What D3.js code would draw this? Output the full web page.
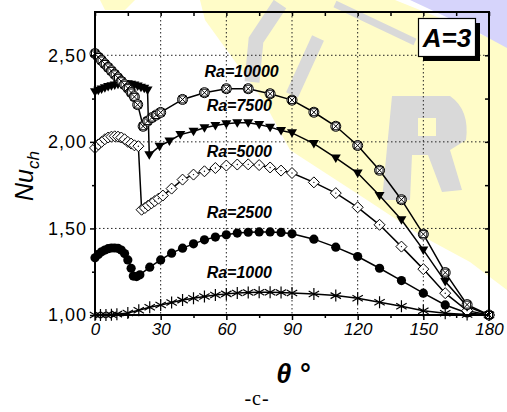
<!DOCTYPE html>
<html>
<head>
<meta charset="utf-8">
<script src="https://cdn.jsdelivr.net/npm/d3@7"></script>
<style>
  body { margin: 0; background: #fff; }
  text { font-family: "Liberation Sans", Arial, sans-serif; }
</style>
</head>
<body>
<div id="chart"></div>
<script>
// Chart canvas size
var svgWidth = 507;
var svgHeight = 412;

// Margins around the plot frame
var margin = { top: 12, right: 18, bottom: 97, left: 95 };
var width = svgWidth - margin.left - margin.right;
var height = svgHeight - margin.top - margin.bottom;

// ---- data ----
var xTicks = [0, 30, 60, 90, 120, 150, 180];
var xMinor = [15, 45, 75, 105, 135, 165];
var yTicks = [1.0, 1.5, 2.0, 2.5];
var yTickLabels = ["1,00", "1,50", "2,00", "2,50"];
var yMinor = [1.25, 1.75, 2.25];

var theta1000 = [0, 2.5, 5, 7.5, 10, 15, 20, 25, 30, 35, 40, 45, 50, 55, 60, 65, 70, 75, 80, 85, 90, 100, 110, 120, 130, 140, 150, 160, 170, 180];
var nu1000 = [1.0, 1.0, 1.0, 1.002, 1.005, 1.012, 1.027, 1.045, 1.058, 1.072, 1.086, 1.097, 1.107, 1.116, 1.122, 1.127, 1.13, 1.132, 1.132, 1.13, 1.127, 1.121, 1.112, 1.097, 1.074, 1.05, 1.025, 1.01, 1.003, 1.0];

var theta2500 = [0, 1.5, 3, 4.5, 6, 7.5, 9, 10.5, 12, 13.5, 15, 16.5, 17.5, 19, 20.5, 25, 30, 35, 40, 45, 50, 55, 60, 65, 70, 75, 80, 85, 90, 100, 110, 120, 130, 140, 150, 160, 170, 180];
var nu2500 = [1.33, 1.35, 1.365, 1.375, 1.383, 1.387, 1.387, 1.385, 1.375, 1.355, 1.318, 1.27, 1.225, 1.222, 1.232, 1.276, 1.318, 1.357, 1.386, 1.411, 1.434, 1.45, 1.463, 1.473, 1.478, 1.48, 1.48, 1.477, 1.469, 1.438, 1.392, 1.338, 1.27, 1.199, 1.126, 1.058, 1.012, 1.0];

var theta5000 = [0, 1.5, 3, 4.5, 6, 7.5, 9, 10.5, 12, 13.5, 15, 16.5, 18, 19.8, 21.3, 22.8, 24.3, 25.8, 27.3, 29, 31, 35, 40, 45, 50, 55, 60, 65, 70, 75, 80, 85, 90, 100, 110, 120, 130, 140, 150, 160, 170, 180];
var nu5000 = [1.965, 1.985, 2.0, 2.015, 2.025, 2.03, 2.032, 2.03, 2.025, 2.015, 2.0, 1.99, 1.98, 1.975, 1.608, 1.618, 1.632, 1.645, 1.658, 1.672, 1.69, 1.73, 1.782, 1.811, 1.83, 1.849, 1.863, 1.869, 1.87, 1.866, 1.852, 1.834, 1.82, 1.766, 1.704, 1.622, 1.521, 1.395, 1.265, 1.126, 1.025, 1.0];

var theta7500 = [0, 1.5, 3, 4.5, 6, 7.5, 9, 10.5, 12, 13.5, 15, 16.5, 18, 19.5, 21, 22.5, 24, 24.8, 29.5, 34, 39, 45, 50, 55, 60, 65, 70, 75, 80, 85, 90, 100, 110, 120, 130, 140, 150, 160, 170, 180];
var nu7500 = [2.29, 2.298, 2.306, 2.313, 2.319, 2.324, 2.328, 2.332, 2.335, 2.337, 2.336, 2.333, 2.328, 2.322, 2.316, 2.31, 2.30, 1.925, 1.975, 2.005, 2.042, 2.061, 2.081, 2.094, 2.104, 2.11, 2.11, 2.1, 2.085, 2.066, 2.052, 1.99, 1.907, 1.82, 1.69, 1.55, 1.376, 1.193, 1.05, 1.0];

var theta10000 = [0, 1.5, 3, 4.5, 6, 7.5, 9, 10.5, 12, 13.5, 15, 16.5, 18, 19.5, 22, 24, 26, 28, 30, 40, 50, 60, 70, 80, 90, 100, 110, 120, 130, 140, 150, 160, 170, 180];
var nu10000 = [2.51, 2.49, 2.47, 2.45, 2.43, 2.41, 2.39, 2.37, 2.35, 2.33, 2.31, 2.285, 2.26, 2.215, 2.09, 2.12, 2.14, 2.155, 2.17, 2.245, 2.284, 2.307, 2.307, 2.278, 2.241, 2.171, 2.09, 1.979, 1.836, 1.666, 1.467, 1.245, 1.06, 1.0];

var seriesNames = ["Ra=1000", "Ra=2500", "Ra=5000", "Ra=7500", "Ra=10000"];
var labelTheta = [51, 51, 51, 51, 50];
var labelNu = [1.215, 1.56, 1.915, 2.18, 2.375];

var series = [
  { name: seriesNames[0], t: theta1000, v: nu1000, marker: "asterisk" },
  { name: seriesNames[1], t: theta2500, v: nu2500, marker: "circle" },
  { name: seriesNames[2], t: theta5000, v: nu5000, marker: "diamond" },
  { name: seriesNames[3], t: theta7500, v: nu7500, marker: "triangle" },
  { name: seriesNames[4], t: theta10000, v: nu10000, marker: "crossbox" }
];

var svg = d3.select("#chart")
  .append("svg")
  .attr("width", svgWidth)
  .attr("height", svgHeight);

// watermark in the background (pale logo)
var wm = svg.append("g");
wm.append("polygon")
  .attr("points", "200,0 395,0 507,45 507,290 470,262 420,235 367,200 290,150 263,100 205,20")
  .attr("fill", "#fffcc8");
wm.append("polygon")
  .attr("points", "100,0 135,0 125,10 105,10")
  .attr("fill", "#fffcc8");
wm.append("polygon")
  .attr("points", "410,0 507,0 507,48 470,28")
  .attr("fill", "#d6d4fb");
var grey = "#d9d9d9";
wm.append("path").attr("d", "M280,4 L256,40 L252,82")
  .attr("stroke", grey).attr("stroke-width", 15).attr("fill", "none");
wm.append("path").attr("d", "M318,38 L292,95")
  .attr("stroke", grey).attr("stroke-width", 13).attr("fill", "none");
wm.append("path").attr("d", "M335,4 L415,42")
  .attr("stroke", grey).attr("stroke-width", 7).attr("fill", "none");
// "R" shaped blob
wm.append("path")
  .attr("d", "M392,96 L450,96 Q470,110 466,140 L450,150 L462,190 L442,192 L428,155 L412,155 L410,200 L382,200 Z M418,118 L418,136 L436,136 L436,118 Z")
  .attr("fill", grey).attr("fill-rule", "evenodd");

var chartGroup = svg.append("g")
  .attr("transform", `translate(${margin.left}, ${margin.top})`);

var xScale = d3.scaleLinear().domain([0, 180]).range([0, width]);
var yScale = d3.scaleLinear().domain([1, 2.75]).range([height, 0]);

// dotted grid
chartGroup.selectAll(".gx")
  .data(xTicks.slice(1, -1))
  .enter().append("line")
  .attr("x1", d => xScale(d)).attr("x2", d => xScale(d))
  .attr("y1", 0).attr("y2", height)
  .attr("stroke", "#222").attr("stroke-width", 1)
  .attr("stroke-dasharray", "1.5,2.5");
chartGroup.selectAll(".gy")
  .data(yTicks.slice(1))
  .enter().append("line")
  .attr("x1", 0).attr("x2", width)
  .attr("y1", d => yScale(d)).attr("y2", d => yScale(d))
  .attr("stroke", "#222").attr("stroke-width", 1)
  .attr("stroke-dasharray", "1.5,2.5");

// lines
var line = d3.line()
  .x(d => xScale(d[0]))
  .y(d => yScale(d[1]));

series.forEach(function (s) {
  var pts = s.t.map((t, i) => [t, s.v[i]]);
  chartGroup.append("path")
    .datum(pts)
    .attr("d", line)
    .attr("fill", "none")
    .attr("stroke", "#000")
    .attr("stroke-width", 1.5);
});

// markers
function drawMarker(g, type) {
  if (type === "circle") {
    g.append("circle").attr("r", 4.6).attr("fill", "#000");
  } else if (type === "triangle") {
    g.append("path").attr("d", "M-5,-3.5 L5,-3.5 L0,5 Z").attr("fill", "#000");
  } else if (type === "diamond") {
    g.append("path").attr("d", "M0,-5.5 L5.5,0 L0,5.5 L-5.5,0 Z")
      .attr("fill", "#fff").attr("stroke", "#000").attr("stroke-width", 1);
    g.append("circle").attr("r", 0.7).attr("fill", "#000");
  } else if (type === "crossbox") {
    g.append("circle").attr("r", 5).attr("fill", "#fff").attr("stroke", "#000").attr("stroke-width", 1);
    g.append("rect").attr("x", -3.5).attr("y", -3.5).attr("width", 7).attr("height", 7)
      .attr("fill", "none").attr("stroke", "#000").attr("stroke-width", 1);
    g.append("path").attr("d", "M-3.5,-3.5 L3.5,3.5 M-3.5,3.5 L3.5,-3.5")
      .attr("stroke", "#000").attr("stroke-width", 1);
  } else if (type === "asterisk") {
    g.append("path").attr("d", "M0,-6 L0,6 M-5.2,-3 L5.2,3 M-5.2,3 L5.2,-3")
      .attr("stroke", "#000").attr("stroke-width", 1.2);
  }
}

series.forEach(function (s) {
  s.t.forEach(function (t, i) {
    var g = chartGroup.append("g")
      .attr("transform", `translate(${xScale(t)}, ${yScale(s.v[i])})`);
    drawMarker(g, s.marker);
  });
});

// series labels
chartGroup.selectAll(".slab")
  .data(seriesNames)
  .enter().append("text")
  .attr("x", (d, i) => xScale(labelTheta[i]))
  .attr("y", (d, i) => yScale(labelNu[i]))
  .style("font-size", "16px")
  .style("font-weight", "bold")
  .style("font-style", "italic")
  .text(d => d);

// frame
chartGroup.append("rect")
  .attr("x", 0).attr("y", 0).attr("width", width).attr("height", height)
  .attr("fill", "none").attr("stroke", "#000").attr("stroke-width", 2);

// axes
var bottomAxis = d3.axisBottom(xScale).tickValues(xTicks).tickSize(5).tickPadding(3)
  .tickFormat(d => d);
var bottomMinor = d3.axisBottom(xScale).tickValues(xMinor).tickSize(3).tickFormat("");
var leftAxis = d3.axisLeft(yScale).tickValues(yTicks).tickSize(5).tickPadding(3)
  .tickFormat((d, i) => yTickLabels[i]);
var leftMinor = d3.axisLeft(yScale).tickValues(yMinor).tickSize(3).tickFormat("");
var topTicks = d3.axisBottom(xScale).tickValues(xTicks.concat(xMinor)).tickSize(4).tickFormat("");
var rightTicks = d3.axisLeft(yScale).tickValues(yTicks.concat(yMinor)).tickSize(4).tickFormat("");

var bx = chartGroup.append("g").attr("transform", `translate(0, ${height})`).call(bottomAxis);
chartGroup.append("g").attr("transform", `translate(0, ${height})`).call(bottomMinor);
var ly = chartGroup.append("g").call(leftAxis);
chartGroup.append("g").call(leftMinor);
chartGroup.append("g").call(topTicks);
chartGroup.append("g").attr("transform", `translate(${width}, 0)`).call(rightTicks);

chartGroup.selectAll(".domain").remove();
chartGroup.selectAll(".tick line").attr("stroke", "#000").attr("stroke-width", 1.5);

bx.selectAll("text")
  .style("font-size", "17px")
  .style("font-style", "italic")
  .style("font-family", "'Liberation Sans', Arial, sans-serif")
  .attr("fill", "#000");
ly.selectAll("text")
  .style("font-size", "18px")
  .style("letter-spacing", "1px")
  .style("font-family", "'Liberation Sans', Arial, sans-serif")
  .attr("fill", "#000");

// axis titles
var yTitle = svg.append("text")
  .attr("transform", "translate(33, 201) rotate(-90)")
  .style("font-size", "25px")
  .style("font-style", "italic");
yTitle.append("tspan").text("Nu");
yTitle.append("tspan").attr("dy", 6).style("font-size", "17px").text("ch");

svg.append("text")
  .attr("x", 293).attr("y", 383)
  .attr("text-anchor", "middle")
  .style("font-size", "27px")
  .style("font-weight", "bold")
  .style("font-style", "italic")
  .text("θ °");

svg.append("text")
  .attr("x", 257).attr("y", 405)
  .attr("text-anchor", "middle")
  .style("font-family", "'Liberation Serif', 'Times New Roman', serif")
  .style("font-size", "20px")
  .style("letter-spacing", "1px")
  .text("-c-");

// A=3 box with shadow
svg.append("rect")
  .attr("x", 423).attr("y", 23).attr("width", 57).attr("height", 38)
  .attr("fill", "#000");
svg.append("rect")
  .attr("x", 418.5).attr("y", 18.5).attr("width", 57).attr("height", 38)
  .attr("fill", "#fff").attr("stroke", "#000").attr("stroke-width", 1.2);
svg.append("text")
  .attr("x", 447).attr("y", 47)
  .attr("text-anchor", "middle")
  .style("font-size", "26px")
  .style("font-weight", "bold")
  .style("font-style", "italic")
  .text("A=3");
</script>
</body>
</html>
